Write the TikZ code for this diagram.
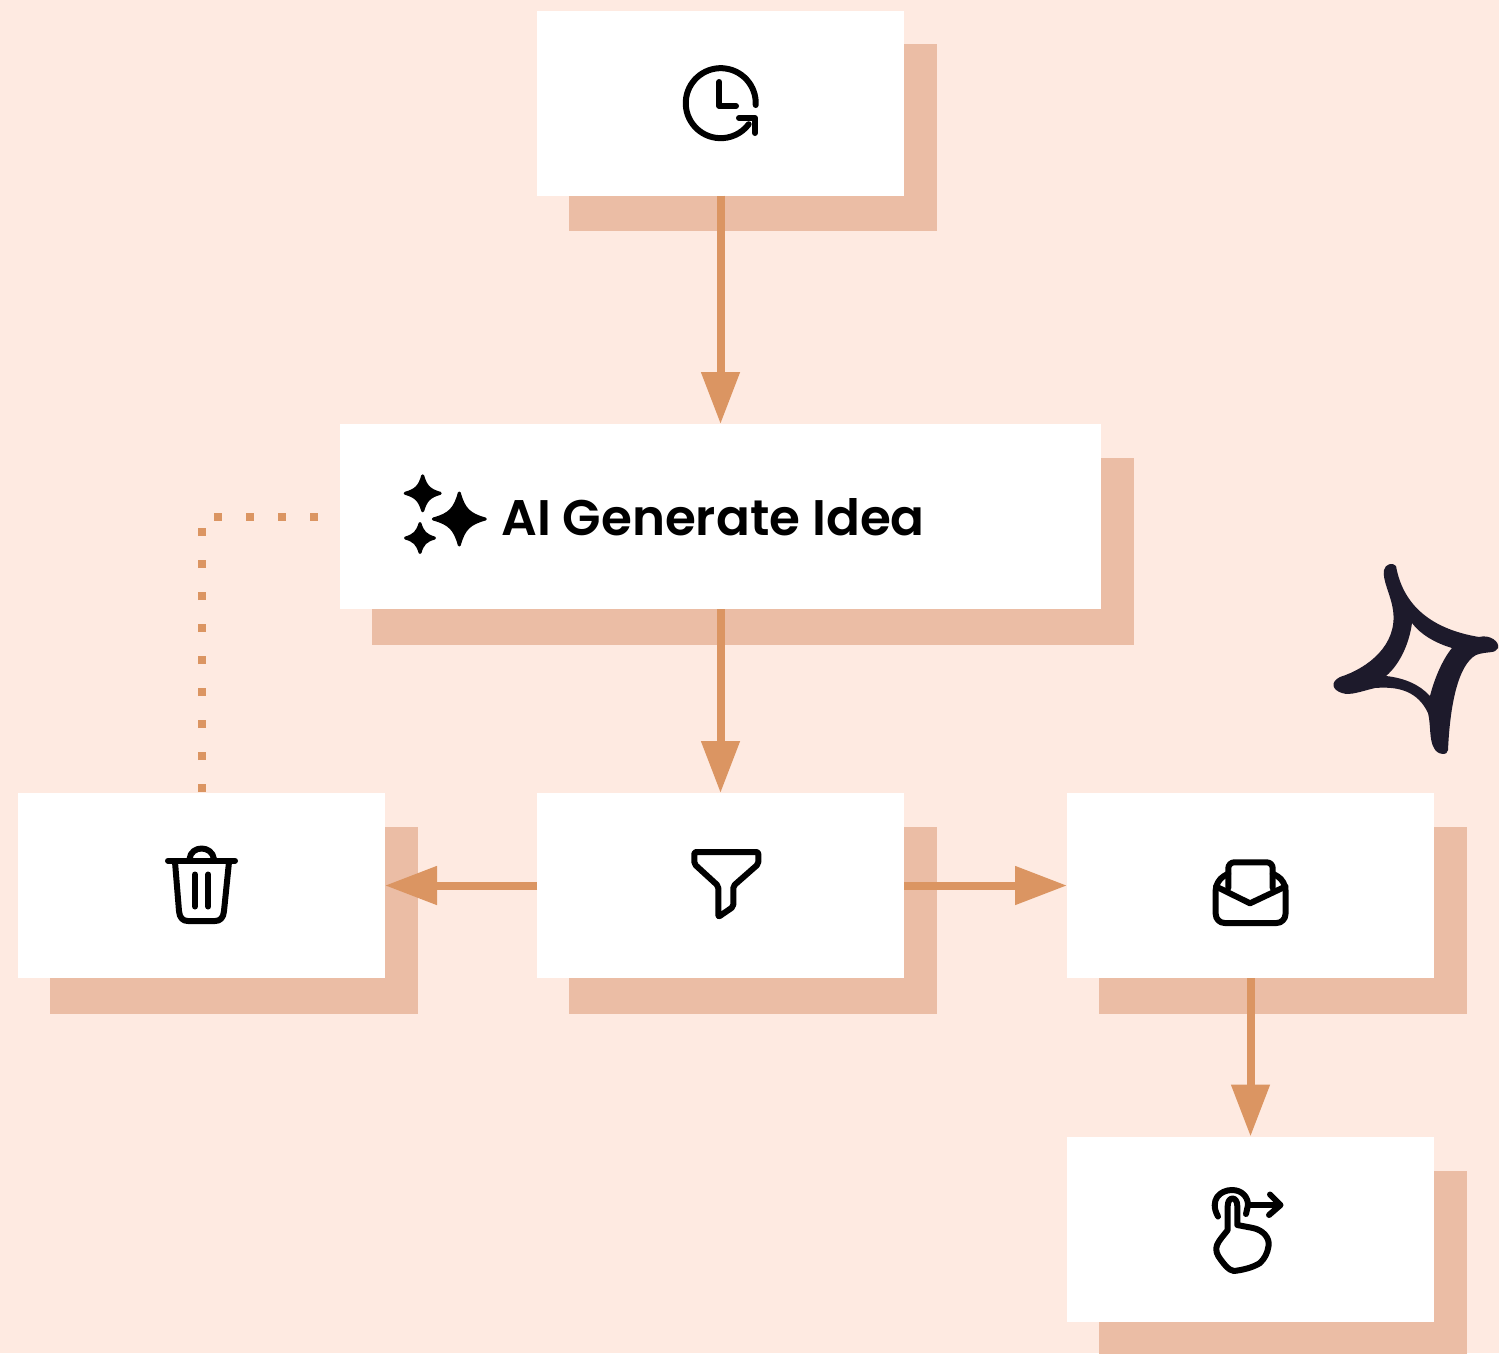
\documentclass[tikz,border=0pt]{standalone}
\usepackage{fontspec}
\setmainfont{Poppins}[UprightFont=* SemiBold]
\usetikzlibrary{arrows.meta}
\definecolor{bgc}{HTML}{FEEAE1}
\definecolor{shc}{HTML}{EBBDA5}
\definecolor{arc}{HTML}{DB9562}
\definecolor{inkc}{HTML}{1D1A2B}
\tikzset{
  card/.style={fill=white,draw=none,inner sep=0,outer sep=0,minimum width=367pt,minimum height=185pt},
  widecard/.style={card,minimum width=761pt},
  shadowbox/.style={fill=shc,draw=none,inner sep=0,outer sep=0,minimum width=368pt,minimum height=187pt},
  flow/.style={draw=arc,line width=8pt,-{Triangle[length=52pt,width=37pt,fill=arc]}},
  dotted link/.style={draw=arc,line width=8pt,dash pattern=on 8pt off 24pt,dash phase=31pt},
  icon/.style={draw=black,line width=6pt,line cap=round,line join=round,fill=none}
}
\newcommand{\sparkle}[3]{%
  \fill[black,draw=black,line width=3pt,line join=round]
    (#1+#3-1.5,#2) .. controls (#1+.36*#3,#2-.16*#3) and (#1+.16*#3,#2-.36*#3) .. (#1,#2-#3+1.5)
    .. controls (#1-.16*#3,#2-.36*#3) and (#1-.36*#3,#2-.16*#3) .. (#1-#3+1.5,#2)
    .. controls (#1-.36*#3,#2+.16*#3) and (#1-.16*#3,#2+.36*#3) .. (#1,#2+#3-1.5)
    .. controls (#1+.16*#3,#2+.36*#3) and (#1+.36*#3,#2+.16*#3) .. cycle;}
\begin{document}
\begin{tikzpicture}[x=1pt,y=-1pt]
\useasboundingbox (0,0) rectangle (1499,1353);
\fill[bgc] (0,0) rectangle (1499,1353);
% shadows
\node[shadowbox] (s1) at (753,137.5) {};
\node[shadowbox,minimum width=762pt] (s2) at (753,551) {};
\node[shadowbox] (s3) at (234,920.5) {};
\node[shadowbox] (s4) at (753,920.5) {};
\node[shadowbox] (s5) at (1283,920.5) {};
\node[shadowbox] (s6) at (1283,1264) {};
% cards
\node[card] (clock) at (720.5,103) {};
\node[widecard] (idea) at (720.5,516.5) {};
\node[card] (trash) at (201.5,885.5) {};
\node[card] (filter) at (720.5,885.5) {};
\node[card] (mail) at (1250.5,885.5) {};
\node[card] (touch) at (1250.5,1229) {};
\node[anchor=base west,inner sep=0,font=\fontsize{50pt}{52pt}\selectfont] (idealabel) at (501,535.5) {AI Generate Idea};
% connectors
\draw[flow] (clock) -- (idea);
\draw[flow] (idea) -- (filter);
\draw[flow] (filter) -- (trash);
\draw[flow] (filter) -- (mail);
\draw[flow] (mail) -- (touch);
\draw[dotted link] (trash.north) |- (idea.west);
% clock icon
\draw[icon] (755.7,105) arc[start angle=3,end angle=-323,radius=35];
\draw[icon] (739,118) -- (755,118) -- (755,133);
\draw[icon] (719.3,82) -- (719.3,106) -- (736,106);
% sparkles
\sparkle{459.3}{519}{27.5}
\sparkle{422.7}{493.3}{19}
\sparkle{420}{538}{16}
% trash icon
\draw[icon] (168,860.7) -- (235,860.7);
\draw[icon] (189.5,859) .. controls (191,845) and (212,845) .. (214,859);
\draw[icon] (175,862) -- (179,911) .. controls (179.5,918) and (183,921) .. (188,921) -- (215,921) .. controls (220,921) and (223.5,918) .. (224,911) -- (229,862);
\draw[icon] (195,874.5) -- (195,906.5);
\draw[icon] (208.3,874.5) -- (208.3,906.5);
% filter icon
\draw[icon,rounded corners=2pt] (694.3,852) -- (758.3,852) -- (758.3,864) -- (733.3,886) -- (733.3,906.7) -- (718.3,917) -- (718.3,886) -- (694.3,864) -- cycle;
% mail icon
\draw[icon,rounded corners=6pt] (1228.3,888) -- (1228.3,862.3) -- (1272.7,862.3) -- (1272.7,888);
\draw[icon] (1216,886.5) -- (1250,903.3) -- (1285.5,886.5);
\draw[icon,rounded corners=9pt] (1228.3,873.5) -- (1215.7,881) -- (1215.7,923) -- (1285.5,923) -- (1285.5,881) -- (1272.7,873.5);
% touch icon
\draw[icon] (1218,1216.5) .. controls (1209,1200) and (1220,1190) .. (1232,1190) .. controls (1242,1190) and (1248,1197) .. (1248,1205) -- (1246,1214);
\draw[icon] (1248.3,1205) -- (1280,1205);
\draw[icon] (1270,1194.5) -- (1280.5,1205) -- (1269,1215);
\draw[icon] (1227.7,1230) -- (1227.7,1206) .. controls (1227.7,1196) and (1237.3,1196) .. (1237.3,1206) -- (1237.3,1225) -- (1253,1228) .. controls (1263,1230) and (1270,1238) .. (1268.5,1246) .. controls (1267.5,1253) and (1265,1258) .. (1260,1263) .. controls (1252,1268) and (1242,1270) .. (1234,1271) .. controls (1228,1270) and (1225,1265) .. (1221,1260) .. controls (1217,1255) and (1215,1250) .. (1217,1245) .. controls (1219,1240) and (1224,1235) .. (1227.7,1230);
% hand-drawn star
\fill[inkc,even odd rule]
  (1396,566) .. controls (1402,600) and (1425,628) .. (1479,637)
  .. controls (1490,634) and (1500,642) .. (1498,648)
  .. controls (1496,654) and (1486,651) .. (1476,655)
  .. controls (1458,665) and (1450,705) .. (1448,750)
  .. controls (1448,756) and (1437,755) .. (1434,748)
  .. controls (1429,740) and (1431,725) .. (1428,713)
  .. controls (1418,692) and (1400,686) .. (1375,688)
  .. controls (1362,691) and (1350,696) .. (1342,693)
  .. controls (1332,690) and (1330,682) .. (1340,677)
  .. controls (1368,668) and (1398,645) .. (1393,610)
  .. controls (1391,595) and (1382,580) .. (1384,570)
  .. controls (1385,564) and (1393,562) .. (1396,566) -- cycle
  (1412,623) .. controls (1420,634) and (1435,643) .. (1452,648)
  .. controls (1442,660) and (1434,680) .. (1430,696)
  .. controls (1420,685) and (1405,678) .. (1386,676)
  .. controls (1399,665) and (1409,645) .. (1412,623) -- cycle;
\end{tikzpicture}
\end{document}
